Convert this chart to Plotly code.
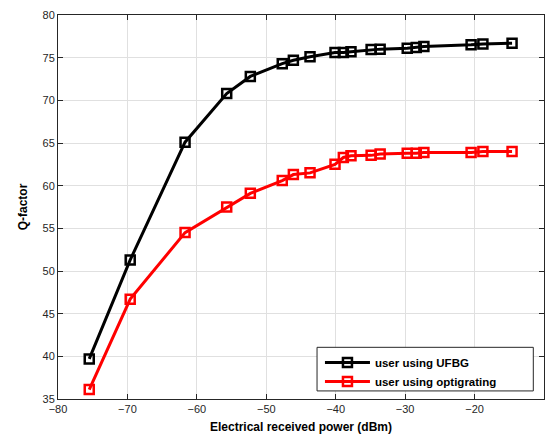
import plotly.graph_objects as go

x_power = [-75.5, -69.6, -61.7, -55.7, -52.3, -47.7, -46.1, -43.7, -40.1, -38.9, -37.8,
           -34.9, -33.6, -29.7, -28.4, -27.3, -20.5, -18.8, -14.6]
q_ufbg = [39.7, 51.3, 65.1, 70.8, 72.8, 74.3, 74.7, 75.1, 75.6, 75.6, 75.7,
          75.95, 76.0, 76.1, 76.2, 76.3, 76.5, 76.6, 76.7]
q_opti = [36.1, 46.7, 54.5, 57.5, 59.1, 60.6, 61.3, 61.5, 62.5, 63.3, 63.5,
          63.55, 63.7, 63.8, 63.8, 63.9, 63.9, 64.0, 64.0]

series_names = ["user using UFBG", "user using optigrating"]
x_ticks = [-80, -70, -60, -50, -40, -30, -20, -10]
y_ticks = [35, 40, 45, 50, 55, 60, 65, 70, 75, 80]

fig = go.Figure()
for name, ys, col in [(series_names[0], q_ufbg, "#000000"), (series_names[1], q_opti, "#ff0000")]:
    fig.add_trace(go.Scatter(
        x=x_power, y=ys, mode="lines+markers", name="<b>" + name + "</b>",
        line=dict(color=col, width=3),
        marker=dict(symbol="square-open", size=9, color=col, line=dict(width=2.5, color=col)),
    ))

axis_common = dict(
    showline=True, linecolor="#262626", linewidth=1, mirror="ticks",
    ticks="inside", ticklen=5, tickcolor="#262626",
    showgrid=True, gridcolor="#e0e0e0", gridwidth=1, zeroline=False,
    tickfont=dict(family="Liberation Sans, Arial", size=11, color="#262626"),
)

fig.update_xaxes(range=[-80, -10], tickvals=x_ticks,
                 title=dict(text="<b>Electrical received power (dBm)</b>",
                            font=dict(family="Liberation Sans, Arial", size=12, color="#000"),
                            standoff=8),
                 **axis_common)
fig.update_yaxes(range=[35, 80], tickvals=y_ticks,
                 title=dict(text="<b>Q-factor</b>",
                            font=dict(family="Liberation Sans, Arial", size=12, color="#000"),
                            standoff=12),
                 **axis_common)

# legend frame drawn as a box (wider than plotly's automatic legend box)
fig.add_shape(type="rect", xref="paper", yref="paper",
              x0=0.533, x1=0.978, y0=0.021, y1=0.1346,
              line=dict(color="#262626", width=1), fillcolor="white", layer="above")

fig.update_layout(
    width=549, height=444,
    margin=dict(l=58, r=5, t=15, b=45),
    plot_bgcolor="white", paper_bgcolor="white",
    legend=dict(x=0.539, y=0.133, xanchor="left", yanchor="top",
                borderwidth=0, bgcolor="rgba(0,0,0,0)",
                font=dict(family="Liberation Sans, Arial", size=11.5, color="#000"),
                itemwidth=45, tracegroupgap=0),
    showlegend=True,
)

fig.write_html("out.html")
